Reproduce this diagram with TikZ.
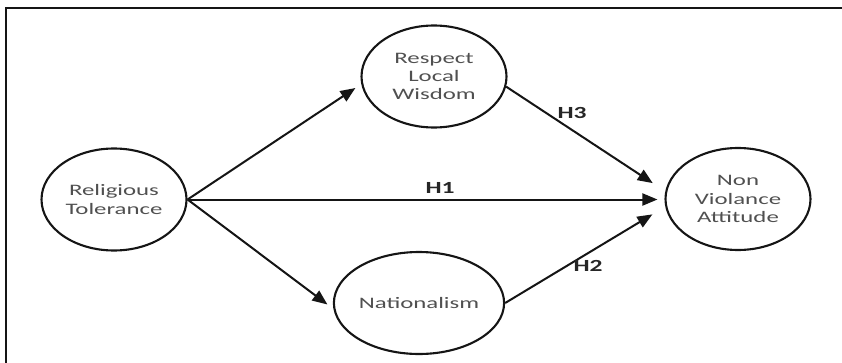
\documentclass[tikz,border=0pt]{standalone}
\usepackage{fontspec}
\newfontfamily\circfont[FakeStretch=1.55]{Carlito}
\newfontfamily\labfont[FakeStretch=1.5]{Carlito}
\usetikzlibrary{shapes.geometric,arrows.meta}
\definecolor{txtgray}{HTML}{505050}
\definecolor{linedark}{HTML}{151515}
\begin{document}
\begin{tikzpicture}[x=1pt,y=1pt,
  construct/.style={ellipse,draw=linedark,line width=2.1pt,minimum width=145pt,minimum height=102pt,inner sep=0pt,align=center,text=txtgray,font=\circfont\fontsize{16}{18.4}\selectfont},
  path/.style={draw=linedark,line width=2pt,-{Triangle[length=15pt,width=12pt]}},
  hlab/.style={font=\labfont\bfseries\fontsize{17}{18}\selectfont,text=black!85,inner sep=0pt}]
\useasboundingbox (0,0) rectangle (842,362);
\coordinate (fbl) at (6.3,-2);
\coordinate (ftl) at (6.3,353.7);
\coordinate (ftr) at (845,353.7);
\draw[linedark,line width=2.2pt] (fbl) -- (ftl) -- (ftr);
\node[construct] (rt) at (114,162.5) {Religious\\Tolerance};
\node[construct] (rlw) at (434,285.5) {Respect\\Local\\Wisdom};
\node[construct] (nv) at (738,163) {Non\\Violance\\Attitude};
\node[construct] (nat) at (419,59) {Nationalism};
\draw[path,shorten >=7pt] (rt.east) -- (rt.east -| nv.west);
\draw[path,shorten >=7pt] (rt.east) -- (rlw.186);
\draw[path,shorten >=7.5pt] (rt.east) -- (nat.184);
\draw[path,shorten >=15pt] (rlw.-8) -- (nv.174);
\draw[path,shorten >=15pt] (nat.east) -- (nv.186);
\node[hlab] (h1) at (440,174) {H1};
\node[hlab] (h3) at (572,249) {H3};
\node[hlab] (h2) at (588,96) {H2};
\end{tikzpicture}
\end{document}
